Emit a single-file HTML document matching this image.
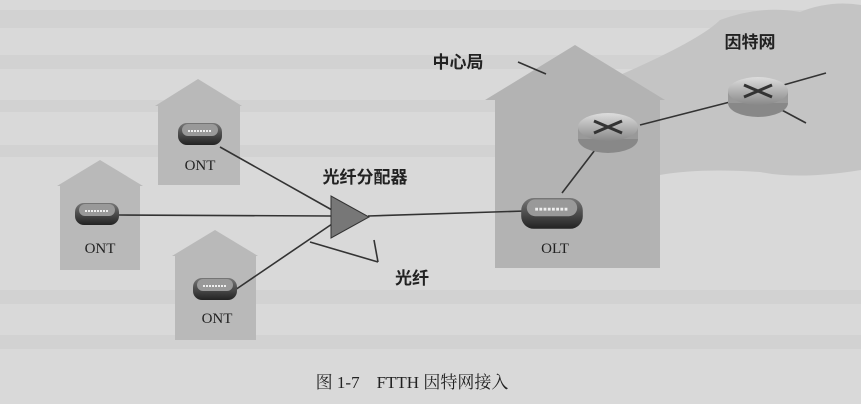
<!DOCTYPE html>
<html><head><meta charset="utf-8"><style>
html,body{margin:0;padding:0;background:#d9d9d9;}
svg{display:block}
text{font-family:"Liberation Serif","Noto Serif CJK SC",serif;fill:#222}
.cj{font-family:"Liberation Sans","Noto Sans CJK SC",sans-serif;font-weight:bold}
</style></head><body>
<svg width="861" height="404" viewBox="0 0 861 404" xmlns="http://www.w3.org/2000/svg">
<defs>
<linearGradient id="dev" x1="0" y1="0" x2="0" y2="1"><stop offset="0" stop-color="#777"/><stop offset="1" stop-color="#222"/></linearGradient>
<linearGradient id="rt" x1="0" y1="0" x2="0" y2="1"><stop offset="0" stop-color="#ddd"/><stop offset="1" stop-color="#888"/></linearGradient>
<g id="ont"><rect x="-22" y="-10" width="44" height="22" rx="9" fill="url(#dev)"/><rect x="-18" y="-9" width="36" height="12" rx="6" fill="#999"/><line x1="-12" y1="-2" x2="12" y2="-2" stroke="#eee" stroke-width="2" stroke-dasharray="2 1"/></g>
<g id="rtr"><ellipse cx="0" cy="6" rx="30" ry="14" fill="#888"/><rect x="-30" y="-6" width="60" height="12" fill="#999"/><ellipse cx="0" cy="-6" rx="30" ry="14" fill="url(#rt)"/><path d="M-14,-12 L14,0 M-14,0 L14,-12" stroke="#333" stroke-width="3"/></g>
</defs>
<g fill="#d2d2d2"><rect x="0" y="10" width="861" height="18"/><rect x="0" y="55" width="861" height="14"/><rect x="0" y="100" width="861" height="12"/><rect x="0" y="145" width="861" height="12"/><rect x="0" y="290" width="861" height="14"/><rect x="0" y="335" width="861" height="14"/></g>
<path d="M620,75 Q700,40 720,20 Q760,5 800,12 Q830,0 861,5 L861,170 Q800,180 760,172 Q700,168 660,175 L640,175 Z" fill="#c4c4c4"/>
<path d="M155,106 L198,79 L242,106 L240,106 L240,185 L158,185 L158,106 Z" fill="#b9b9b9"/>
<path d="M57,186 L100,160 L143,186 L140,186 L140,270 L60,270 L60,186 Z" fill="#b9b9b9"/>
<path d="M172,256 L215,230 L258,256 L256,256 L256,340 L175,340 L175,256 Z" fill="#b9b9b9"/>
<path d="M485,100 L575,45 L665,100 L660,100 L660,268 L495,268 L495,100 Z" fill="#b3b3b3"/>
<g stroke="#333" stroke-width="1.6" fill="none">
<line x1="220" y1="147" x2="332" y2="210"/><line x1="118" y1="215" x2="332" y2="216"/><line x1="235" y1="290" x2="332" y2="224"/>
<line x1="368" y1="216" x2="525" y2="211"/>
<line x1="562" y1="193" x2="598" y2="146"/><line x1="640" y1="125" x2="730" y2="102"/>
<line x1="780" y1="86" x2="826" y2="73"/><line x1="778" y1="108" x2="806" y2="123"/>
<line x1="518" y1="62" x2="546" y2="74"/>
<line x1="310" y1="242" x2="378" y2="262"/><line x1="374" y1="240" x2="378" y2="262"/>
</g>
<polygon points="331,196 331,238 369,217" fill="#777" stroke="#333"/>
<use href="#ont" x="200" y="133"/><use href="#ont" x="97" y="213"/><use href="#ont" x="215" y="288"/>
<g transform="translate(552,212) scale(1.4)"><use href="#ont"/></g>
<use href="#rtr" x="608" y="133"/><use href="#rtr" x="758" y="97"/>
<text x="200" y="170" font-size="15" text-anchor="middle">ONT</text>
<text x="100" y="253" font-size="15" text-anchor="middle">ONT</text>
<text x="217" y="323" font-size="15" text-anchor="middle">ONT</text>
<text x="555" y="253" font-size="15" text-anchor="middle">OLT</text>
<text x="365" y="183" font-size="17" class="cj" text-anchor="middle">光纤分配器</text>
<text x="412" y="284" font-size="17" class="cj" text-anchor="middle">光纤</text>
<text x="458" y="68" font-size="17" class="cj" text-anchor="middle">中心局</text>
<text x="750" y="48" font-size="17" class="cj" text-anchor="middle">因特网</text>
<text x="412" y="388" font-size="17" text-anchor="middle">图 1-7　FTTH 因特网接入</text>
</svg>
</body></html>
